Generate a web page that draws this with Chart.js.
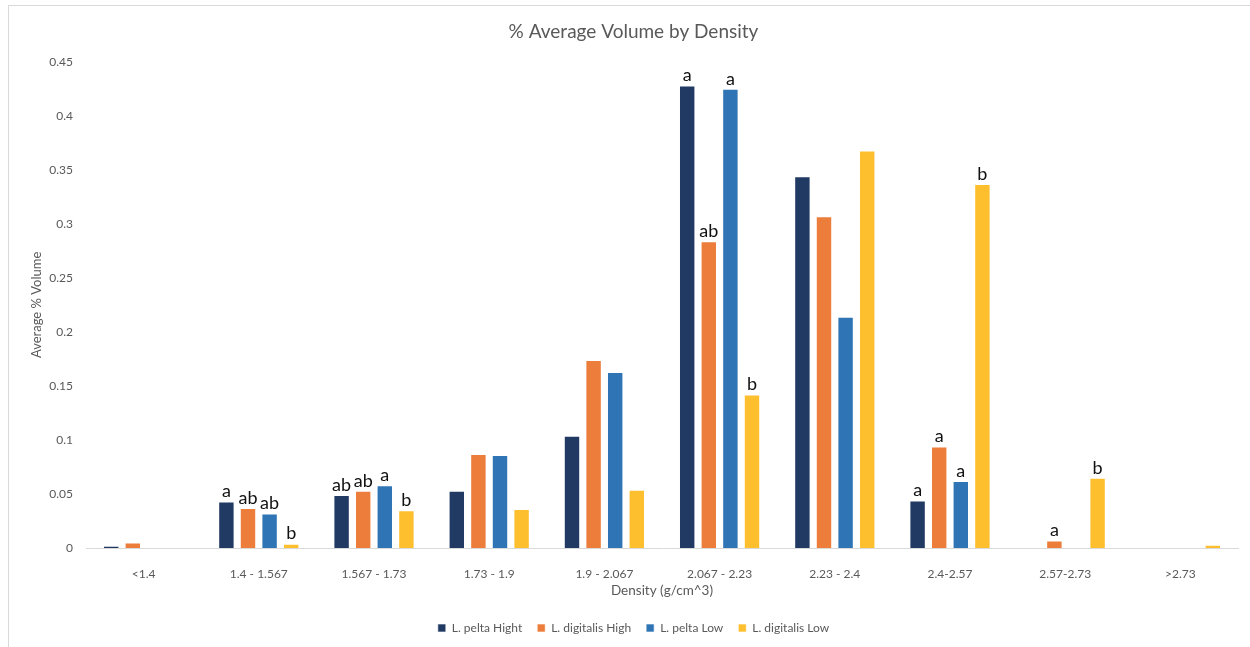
<!DOCTYPE html>
<html>
<head>
<meta charset="utf-8">
<script src="https://cdn.jsdelivr.net/npm/chart.js@4/dist/chart.umd.min.js"></script>
<style>
  html, body { margin: 0; padding: 0; background: #fff; overflow: hidden; }
  #frame { position: absolute; left: 8px; top: 5px; width: 1250px; height: 650px; border-left: 1px solid #d9d9d9; border-top: 1px solid #d9d9d9; }
  #wrap { position: absolute; left: 0; top: 0; width: 1250px; height: 647px; }
</style>
</head>
<body>
<div id="frame"></div>
<div id="wrap"><canvas id="mycanvas"></canvas></div>
<script>
var densities = ['<1.4', '1.4 - 1.567', '1.567 - 1.73', '1.73 - 1.9', '1.9 - 2.067', '2.067 - 2.23', '2.23 - 2.4', '2.4-2.57', '2.57-2.73', '>2.73'];
var peltaHigh     = [0.002, 0.043, 0.049, 0.053, 0.104, 0.428, 0.344, 0.044, 0,     0];
var digitalisHigh = [0.005, 0.037, 0.053, 0.087, 0.174, 0.284, 0.307, 0.094, 0.007, 0];
var peltaLow      = [0,     0.032, 0.058, 0.086, 0.163, 0.425, 0.214, 0.062, 0,     0];
var digitalisLow  = [0,     0.004, 0.035, 0.036, 0.054, 0.142, 0.368, 0.337, 0.065, 0.003];
var peltaHighLetters     = ['', 'a',  'ab', '', '', 'a',  '', 'a', '',  ''];
var digitalisHighLetters = ['', 'ab', 'ab', '', '', 'ab', '', 'a', 'a', ''];
var peltaLowLetters      = ['', 'ab', 'a',  '', '', 'a',  '', 'a', '',  ''];
var digitalisLowLetters  = ['', 'b',  'b',  '', '', 'b',  '', 'b', 'b', ''];

var fontFam = 'Lato, "Open Sans", sans-serif';

// draws the significance letters above each bar
var letterPlugin = {
	id: 'letters',
	afterDatasetsDraw: function(chart) {
		var ctx = chart.ctx;
		ctx.save();
		ctx.font = '18px ' + fontFam;
		ctx.fillStyle = '#111';
		ctx.textAlign = 'center';
		ctx.textBaseline = 'bottom';
		chart.data.datasets.forEach(function(ds, i) {
			var meta = chart.getDatasetMeta(i);
			meta.data.forEach(function(bar, j) {
				var txt = ds.letters[j];
				if (txt) ctx.fillText(txt, bar.x, bar.y - 1);
			});
		});
		ctx.restore();
	}
};

var chartdata = {
	labels: densities,
	datasets: [
		{ label: 'L. pelta Hight', data: peltaHigh, letters: peltaHighLetters, backgroundColor: '#213A63' },
		{ label: 'L. digitalis High', data: digitalisHigh, letters: digitalisHighLetters, backgroundColor: '#EC7D3A' },
		{ label: 'L. pelta Low', data: peltaLow, letters: peltaLowLetters, backgroundColor: '#2F75B5' },
		{ label: 'L. digitalis Low', data: digitalisLow, letters: digitalisLowLetters, backgroundColor: '#FEBF2F' }
	]
};

var ctx = document.getElementById('mycanvas');
var barGraph = new Chart(ctx, {
	type: 'bar',
	data: chartdata,
	plugins: [letterPlugin],
	options: {
		responsive: true,
		maintainAspectRatio: false,
		animation: false,
		datasets: { bar: { categoryPercentage: 0.75, barPercentage: 0.76, borderColor: 'rgba(255,255,255,0.6)', borderWidth: 1 } },
		layout: { padding: { left: 29, right: 12, top: 10, bottom: 3 } },
		plugins: {
			title: {
				display: true,
				text: '% Average Volume by Density',
				color: '#595959',
				font: { family: fontFam, size: 19, weight: 'normal' },
				padding: { top: 10, bottom: 19 }
			},
			legend: {
				position: 'bottom',
				labels: { boxWidth: 8, boxHeight: 8, color: '#595959', font: { family: fontFam, size: 12 }, padding: 15 }
			},
			tooltip: { enabled: false }
		},
		scales: {
			x: {
				afterFit: function(scale) { scale.height = 59; },
				grid: { display: false, drawTicks: false },
				border: { color: '#d9d9d9' },
				ticks: { color: '#595959', font: { family: fontFam, size: 12 }, maxRotation: 0, padding: 19 },
				title: { display: true, text: 'Density (g/cm^3)', color: '#595959', font: { family: fontFam, size: 13.5 }, padding: { top: 0, bottom: 8 } }
			},
			y: {
				min: 0,
				max: 0.45,
				afterFit: function(scale) { scale.width = 57; },
				grid: { display: false, drawTicks: false },
				border: { display: false },
				ticks: {
					stepSize: 0.05, color: '#595959', font: { family: fontFam, size: 12 }, padding: 13,
					callback: function(v) { return String(+v.toFixed(2)); }
				},
				title: { display: true, text: 'Average % Volume', color: '#595959', font: { family: fontFam, size: 13 }, padding: { top: 0, bottom: 0 } }
			}
		}
	}
});
</script>
</body>
</html>
